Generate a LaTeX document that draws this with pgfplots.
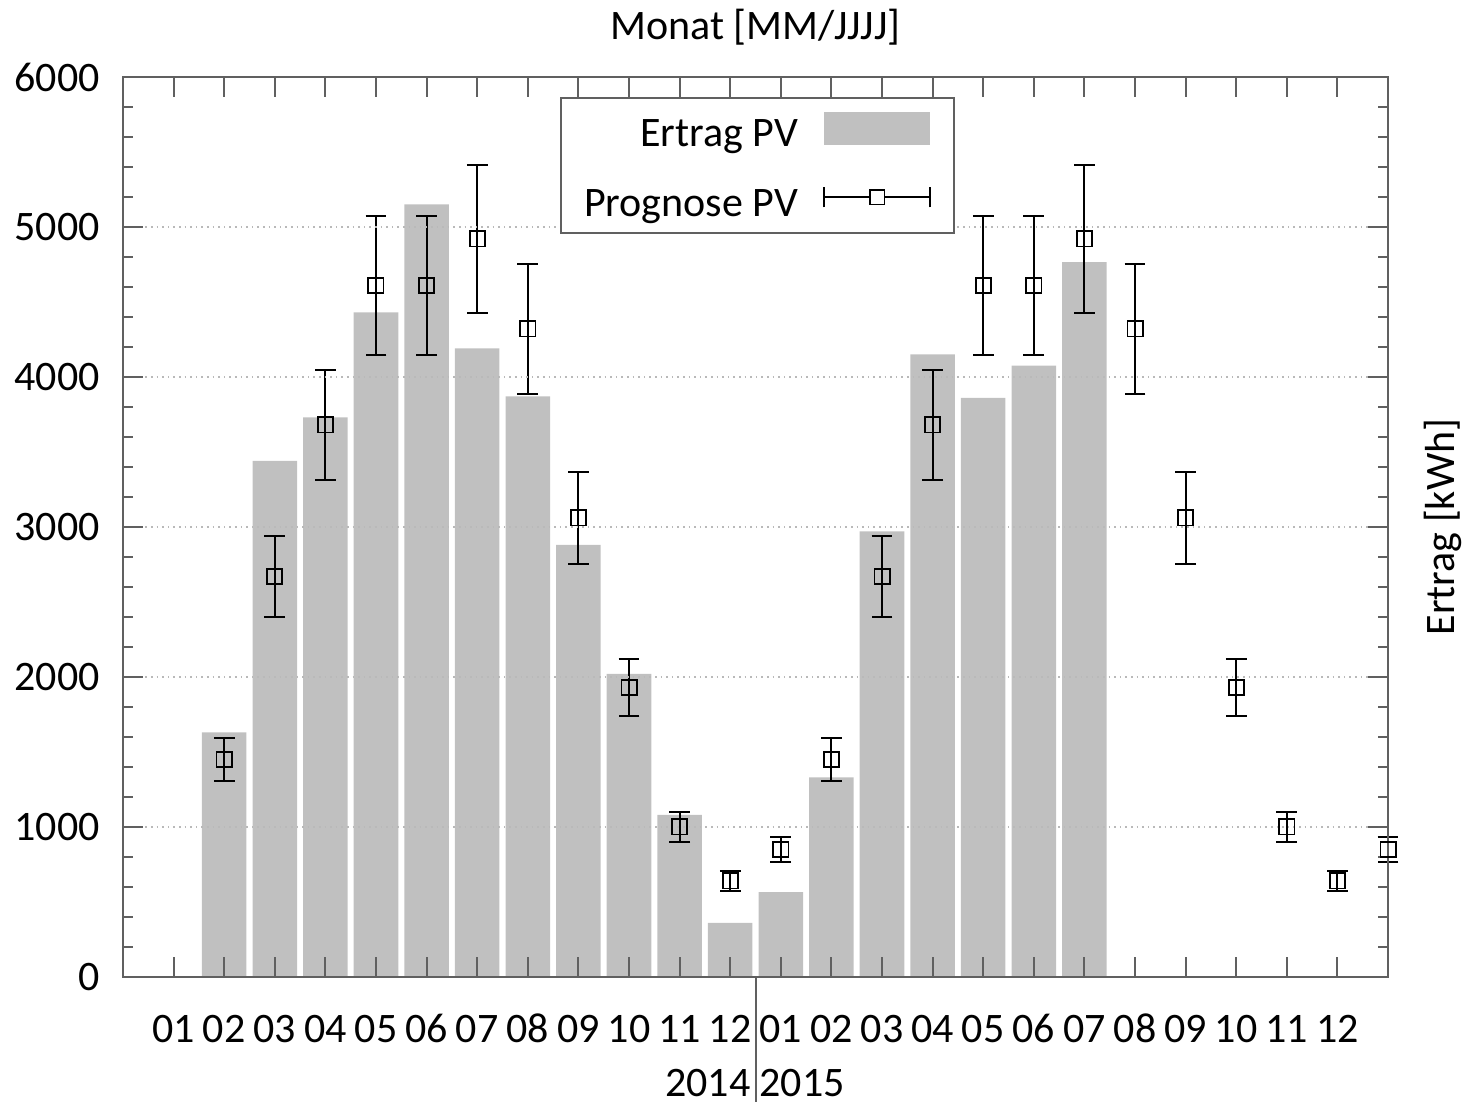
\documentclass[border=0pt]{standalone}
\usepackage{fontspec}
\setmainfont{Carlito}
\usepackage{pgfplots}
\pgfplotsset{compat=1.18}
\definecolor{barfill}{HTML}{C0C0C0}
\definecolor{axisgray}{HTML}{606060}
\newcommand{\chartfont}{\fontsize{10.5}{12.6}\selectfont}

\begin{document}
\begin{tikzpicture}
\useasboundingbox (-30.75pt,-31.25pt) rectangle (335.75pt,244.25pt);
\begin{axis}[
  scale only axis,
  width=316.25pt, height=225pt,
  xmin=-1, xmax=24, ymin=0, ymax=6000,
  xtick={0,...,23},
  xticklabels={01,02,03,04,05,06,07,08,09,10,11,12,01,02,03,04,05,06,07,08,09,10,11,12},
  ytick={0,1000,...,6000},
  yticklabels={0,1000,2000,3000,4000,5000,6000},
  minor y tick num=4,
  tick align=inside,
  major tick length=5pt, minor tick length=2.5pt,
  axis line style={axisgray, line width=0.5pt},
  every tick/.style={axisgray, line width=0.5pt},
  ymajorgrids,
  grid style={densely dotted, gray!55, line width=0.3pt},
  axis on top,
  tick label style={font=\chartfont},
  xticklabel style={text height=7pt, text depth=0pt, yshift=-5.9pt},
  yticklabel style={xshift=-2.3pt},
  xlabel={Monat [MM/JJJJ]},
  ylabel={Ertrag [kWh]},
  every axis x label/.style={at={(axis description cs:0.5,1)}, anchor=center, yshift=12.5pt, font=\chartfont},
  every axis y label/.style={at={(axis description cs:1.0435,0.5)}, rotate=90, anchor=center, font=\chartfont},
  legend plot pos=right,
  legend cell align=right,
  legend style={at={(0.3455,0.9778)}, anchor=north west, draw=axisgray,
    line width=0.5pt, font=\chartfont, inner xsep=5.75pt, inner ysep=3.5pt,
    row sep=9.2pt, column sep=6.25pt, nodes={inner sep=0pt, text depth=0.5pt}},
  clip=false,
]

% Ertrag PV, 02/2014 .. 07/2015
\addplot[ybar, bar width=0.88, fill=barfill, draw=none,
  legend image code/.code={\fill[barfill] (0pt,-2.6pt) rectangle (26.5pt,5.6pt);}]
  coordinates {
  (1,1630) (2,3440) (3,3730) (4,4430) (5,5150) (6,4190)
  (7,3870) (8,2880) (9,2020) (10,1080) (11,360) (12,565)
  (13,1330) (14,2970) (15,4150) (16,3860) (17,4075) (18,4765)};
\addlegendentry{Ertrag PV}

% Prognose PV with +-10 %
\addplot[only marks, mark=square, mark size=1.9pt,
  mark options={black, line width=0.45pt},
  legend image code/.code={
    \draw[black, line width=0.5pt] (0pt,1.8pt) -- (26.5pt,1.8pt);
    \draw[black, line width=0.5pt] (0pt,-0.8pt) -- (0pt,4.4pt);
    \draw[black, line width=0.5pt] (26.5pt,-0.8pt) -- (26.5pt,4.4pt);
    \draw[black, line width=0.45pt, fill=white] (11.4pt,-0.05pt) rectangle (15.1pt,3.65pt);},
  error bars/.cd, y dir=both, y explicit,
  error bar style={black, line width=0.5pt},
  error mark options={rotate=90, black, line width=0.5pt, mark size=2.6pt}]
  coordinates {
  (1,1450) +- (0,145)   (2,2670) +- (0,267)   (3,3680) +- (0,368)
  (4,4610) +- (0,461)   (5,4610) +- (0,461)   (6,4920) +- (0,492)
  (7,4320) +- (0,432)   (8,3060) +- (0,306)   (9,1930) +- (0,193)
  (10,1000) +- (0,100)  (11,640) +- (0,64)    (12,850) +- (0,85)
  (13,1450) +- (0,145)  (14,2670) +- (0,267)  (15,3680) +- (0,368)
  (16,4610) +- (0,461)  (17,4610) +- (0,461)  (18,4920) +- (0,492)
  (19,4320) +- (0,432)  (20,3060) +- (0,306)  (21,1930) +- (0,193)
  (22,1000) +- (0,100)  (23,640) +- (0,64)    (24,850) +- (0,85)};
\addlegendentry{Prognose PV}

\draw[axisgray, line width=0.5pt] (axis cs:11.5,0) -- ++(0pt,-31.25pt);
\node[anchor=base east, font=\chartfont, inner sep=0pt] at ([xshift=-1.1pt,yshift=-29.75pt]axis cs:11.5,0) {2014};
\node[anchor=base west, font=\chartfont, inner sep=0pt] at ([xshift=0.8pt,yshift=-29.75pt]axis cs:11.5,0) {2015};
\end{axis}
\end{tikzpicture}
\end{document}
